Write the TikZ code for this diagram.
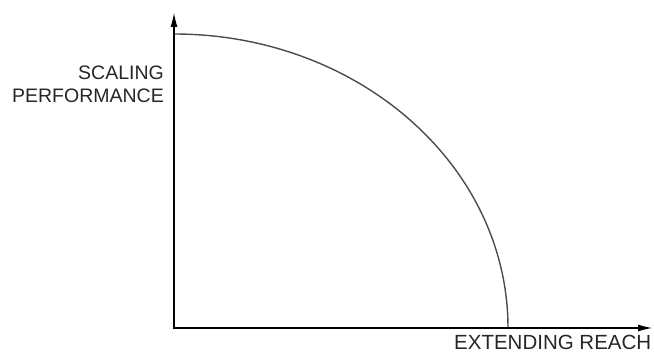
\documentclass[tikz,border=0pt]{standalone}
\usepackage{fontspec}
\setmainfont{Liberation Sans}
\usetikzlibrary{arrows.meta}
\begin{document}
\begin{tikzpicture}[x=1pt,y=1pt,
  axis/.style={line width=1.8pt,black,-{Latex[length=15pt,width=7pt]}},
  curveline/.style={line width=1.4pt,draw=black!70},
  lbl/.style={inner sep=0pt,text=black!85}]
\useasboundingbox (0,0) rectangle (654,356);
\coordinate (O) at (174,28);
\coordinate (Ytip) at (174,344);
\coordinate (Xtip) at (653,28);
\coordinate (Cstart) at (174,322);
\draw[curveline] (Cstart) arc[start angle=90,end angle=0,x radius=334,y radius=294];
\draw[axis] ([yshift=-0.9pt]O) -- (Ytip);
\draw[axis] ([xshift=-0.9pt]O) -- (Xtip);
\node[lbl,anchor=base east,font=\fontsize{19.5}{23}\selectfont] (ylab1) at (164,276) {SCALING};
\node[lbl,anchor=base east,font=\fontsize{19.5}{23}\selectfont] (ylab2) at (164,253) {PERFORMANCE};
\node[lbl,anchor=base west,font=\fontsize{20.5}{24}\selectfont] (xlab) at (454,6) {EXTENDING REACH};
\end{tikzpicture}
\end{document}
